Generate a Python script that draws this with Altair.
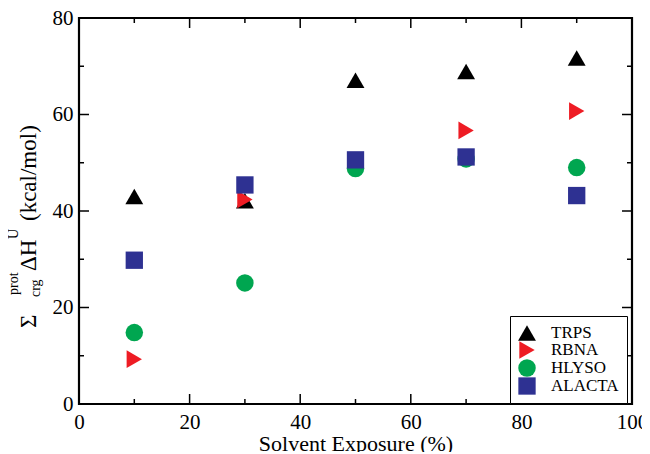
import altair as alt
import pandas as pd

series = ["TRPS", "RBNA", "HLYSO", "ALACTA"]
exposure = [10, 30, 50, 70, 90]
trps = [43.0, 42.1, 67.1, 68.9, 71.7]
rbna = [9.3, 42.4, 50.0, 56.7, 60.7]
hlyso = [14.8, 25.1, 48.8, 50.8, 49.0]
alacta = [29.8, 45.4, 50.6, 51.2, 43.2]
shapes = ["triangle-up", "triangle-right", "circle", "square"]
colors = ["#000000", "#ee1c24", "#00a650", "#2e3192"]
sizes = [320, 300, 200, 190]

x_major = [0, 20, 40, 60, 80, 100]
x_minor = [10, 30, 50, 70, 90]
y_major = [0, 20, 40, 60, 80]
y_minor = [10, 30, 50, 70]

W, H = 553, 386
FONT = "Liberation Serif"

rows = []
for name, vals in zip(series, [trps, rbna, hlyso, alacta]):
    for xv, yv in zip(exposure, vals):
        rows.append({"series": name, "exposure": xv, "dH": yv})
df = pd.DataFrame(rows)

xscale = alt.Scale(domain=[0, 100], nice=False, zero=False)
yscale = alt.Scale(domain=[0, 80], nice=False, zero=False)
xaxis = alt.Axis(values=x_major, title="Solvent Exposure (%)", domain=False, ticks=False,
                 grid=False, labelFont=FONT, labelFontSize=21, labelColor="black",
                 labelPadding=7, titleFont=FONT, titleFontSize=22, titleFontWeight="normal",
                 titleColor="black", titlePadding=1, labelFlush=False)
yaxis = alt.Axis(values=y_major, title=None, domain=False, ticks=False, grid=False,
                 labelFont=FONT, labelFontSize=21, labelColor="black", labelPadding=6,
                 labelFlush=False)

points = alt.Chart(df).mark_point(filled=True, opacity=1, strokeWidth=0).encode(
    x=alt.X("exposure:Q", scale=xscale, axis=xaxis),
    y=alt.Y("dH:Q", scale=yscale, axis=yaxis),
    color=alt.Color("series:N", scale=alt.Scale(domain=series, range=colors),
                    legend=alt.Legend(title=None, orient="none", legendX=431, legendY=298,
                                      strokeColor="black", fillColor="white", padding=8,
                                      labelFont=FONT, labelFontSize=17, labelColor="black",
                                      labelOffset=15, rowPadding=0, symbolStrokeWidth=0)),
    shape=alt.Shape("series:N", scale=alt.Scale(domain=series, range=shapes)),
    size=alt.Size("series:N", scale=alt.Scale(domain=series, range=sizes)),
    order=alt.Order("idx:Q"),
).transform_calculate(
    idx="indexof(['TRPS','RBNA','HLYSO','ALACTA'], datum.series)"
)


def tick_layer(vals, axis, side, length):
    d = pd.DataFrame({"v": vals})
    base = alt.Chart(d).mark_rule(color="black", strokeWidth=1.5)
    if axis == "x":
        if side == "bottom":
            ys = dict(y=alt.value(H), y2=alt.value(H - length))
        else:
            ys = dict(y=alt.value(0), y2=alt.value(length))
        return base.encode(x=alt.X("v:Q", scale=xscale, axis=xaxis), **ys)
    else:
        if side == "left":
            xs = dict(x=alt.value(0), x2=alt.value(length))
        else:
            xs = dict(x=alt.value(W), x2=alt.value(W - length))
        return base.encode(y=alt.Y("v:Q", scale=yscale, axis=yaxis), **xs)


ticks = [
    tick_layer(x_major, "x", "bottom", 10), tick_layer(x_minor, "x", "bottom", 5),
    tick_layer(x_major, "x", "top", 10), tick_layer(x_minor, "x", "top", 5),
    tick_layer(y_major, "y", "left", 10), tick_layer(y_minor, "y", "left", 5),
    tick_layer(y_major, "y", "right", 10), tick_layer(y_minor, "y", "right", 5),
]

# y-axis title pieces: Σ^prot_crg ΔH^U (kcal/mol)
label_text = ["\u03a3", "prot", "crg", "\u0394H", "U", "(kcal/mol)"]
label_x = [-43, -61, -39, -43, -61, -43]
label_y = [310, 277, 279, 253, 221, 203]
label_size = [23, 14, 14, 23, 14, 23]

ylabels = []
for t, lx, ly, fs in zip(label_text, label_x, label_y, label_size):
    ylabels.append(
        alt.Chart(pd.DataFrame({"t": [t]})).mark_text(
            angle=270, align="left", baseline="alphabetic", font=FONT,
            fontSize=fs, color="black"
        ).encode(x=alt.value(lx), y=alt.value(ly), text="t:N")
    )

chart = alt.layer(*ticks, points, *ylabels).properties(
    width=W, height=H, autosize="none",
    padding={"left": 71, "top": 10, "right": 10, "bottom": 48},
).configure_view(stroke="black", strokeWidth=2.2)

chart.save("out.html", embed_options={"renderer": "svg", "actions": False})
